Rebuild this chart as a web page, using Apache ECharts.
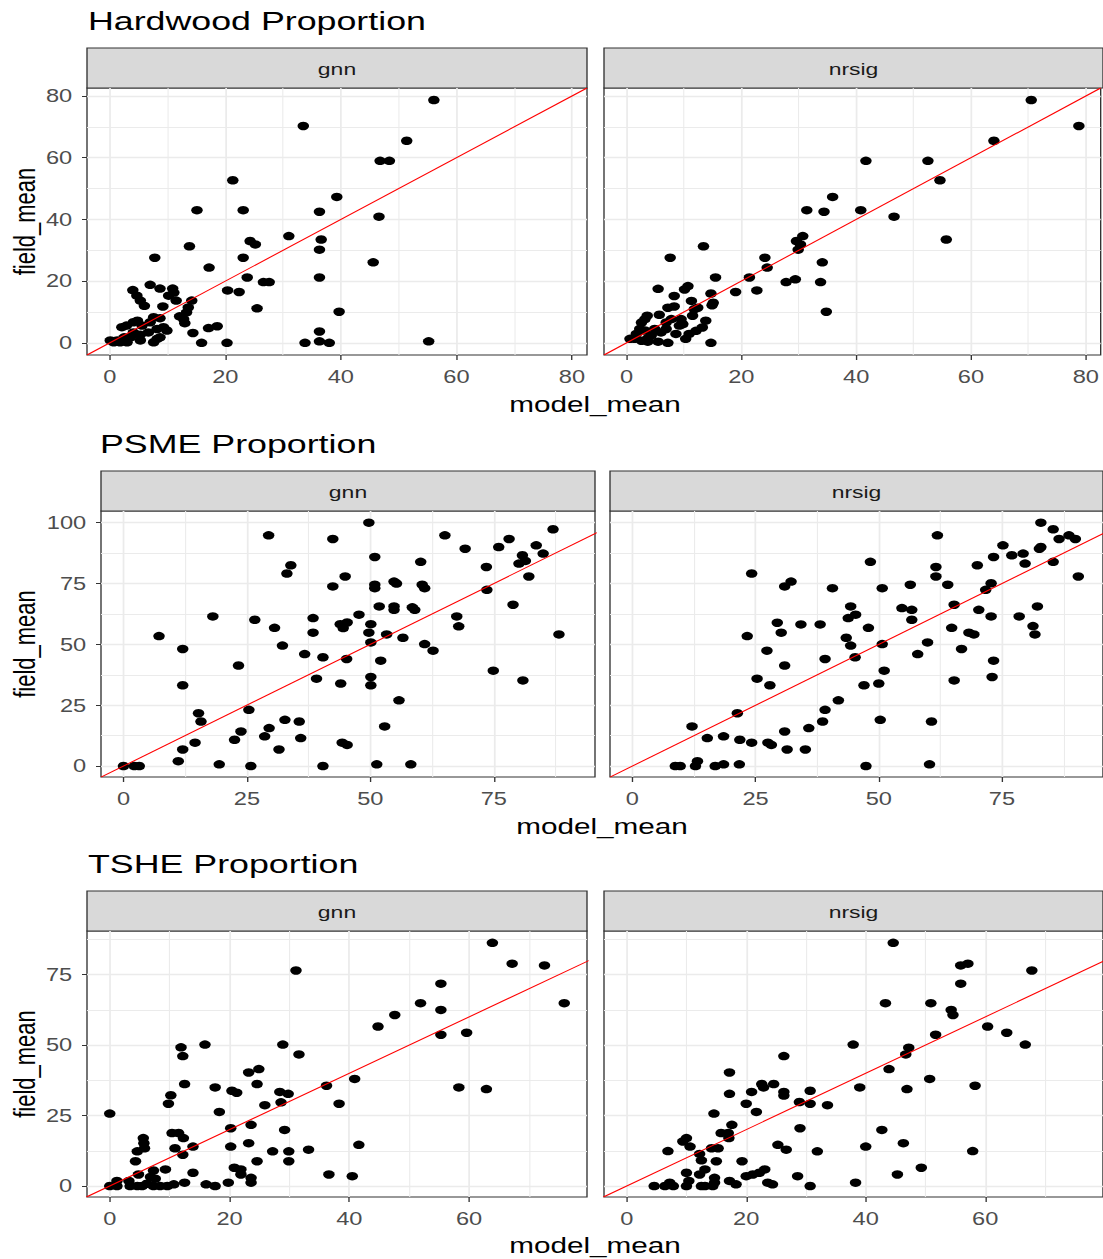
<!DOCTYPE html>
<html>
<head>
<meta charset="utf-8">
<script src="https://cdn.jsdelivr.net/npm/echarts@6/dist/echarts.min.js"></script>
<style>
html, body { margin: 0; padding: 0; background: #fff; overflow: hidden; }
#main { height: 1259px; transform-origin: 0 0; }
</style>
</head>
<body>
<div id="main"></div>
<script>
// 数据 (model_mean, field_mean)
var hardwoodGnn = [[56.1,78.7],[33.5,70.3],[51.4,65.5],[46.8,59.0],[48.4,59.0],[21.3,52.7],[39.3,47.3],[15.1,43.0],[23.1,43.0],[36.3,42.5],[46.6,40.9],[31.0,34.6],[36.6,33.5],[24.3,33.0],[25.2,31.9],[13.8,31.3],[36.3,30.2],[7.8,27.6],[23.1,27.6],[45.6,26.1],[17.2,24.4],[23.8,21.2],[36.3,21.2],[26.6,19.7],[27.6,19.7],[20.4,17.0],[22.4,16.5],[25.5,11.2],[39.7,10.1],[36.3,3.7],[36.3,0.5],[38.0,0],[33.8,0],[55.2,0.5],[20.3,0],[15.9,0],[14.4,3.2],[17.1,4.8],[18.6,5.4],[13.0,6.4],[7.0,18.8],[8.7,17.6],[10.9,17.6],[11.1,16.3],[4.0,17.1],[4.7,15.3],[5.3,13.7],[6.0,12.0],[10.2,15.3],[11.5,13.7],[14.2,13.7],[13.6,11.5],[13.3,9.9],[9.2,11.8],[12.1,8.6],[12.8,7.7],[7.6,8.3],[8.7,8.0],[7.0,6.7],[4.8,7.2],[4.1,6.7],[2.9,5.6],[2.1,5.1],[5.6,5.6],[8.2,4.5],[9.3,5.1],[9.9,4.0],[6.7,3.4],[5.3,2.6],[8.2,1.3],[7.6,0.2],[8.7,1.8],[3.6,1.8],[4.1,3.4],[3.0,0.2],[1.8,0.2],[0.1,0.8],[0.7,0.2],[1.3,0.8],[5.3,0.8],[2.5,1.8]];
var hardwoodNrsig = [[70.5,78.7],[78.8,70.3],[64.0,65.5],[41.7,59.0],[52.5,59.0],[54.6,52.7],[35.9,47.3],[31.4,43.0],[34.4,42.5],[40.8,43.0],[46.6,40.9],[55.7,33.5],[30.7,34.6],[29.6,33.0],[30.3,31.9],[29.9,30.2],[13.4,31.3],[7.6,27.6],[24.1,27.6],[34.1,26.1],[24.5,24.4],[15.5,21.2],[21.4,21.2],[27.8,19.7],[29.4,20.6],[33.8,19.7],[19.0,16.5],[22.7,17.0],[34.8,10.1],[14.7,0],[5.5,17.5],[10.1,17.3],[10.7,18.4],[8.3,15.2],[14.7,16.0],[15.1,13.0],[14.9,12.2],[11.3,13.6],[7.2,11.4],[8.3,11.8],[5.7,9.1],[11.8,10.9],[12.4,11.4],[11.5,8.8],[3.6,8.8],[3.2,7.7],[2.6,6.6],[2.3,4.5],[7.8,7.7],[9.8,6.1],[9.2,5.6],[13.8,7.2],[13.2,5.0],[12.1,3.9],[10.9,2.9],[10.3,1.3],[8.6,2.9],[6.9,4.5],[6.0,3.4],[4.9,4.5],[4.3,2.4],[3.7,1.5],[0.6,1.3],[1.4,1.3],[2.6,0.7],[3.7,0.4],[5.5,0.4],[7.2,0],[1.7,2.9],[3.2,4.0],[6.9,6.6],[9.5,7.7]];
var psmeGnn = [[49.7,100],[29.4,94.8],[42.4,93.3],[65.1,94.8],[87.0,97.3],[78.1,93.3],[69.2,89.3],[76.0,90.0],[83.6,90.7],[85.0,87.3],[80.8,86.6],[81.4,84.3],[80.1,83.2],[73.5,81.8],[82.1,77.9],[50.9,85.9],[60.2,83.9],[33.9,82.5],[33.1,79.1],[44.9,77.9],[42.4,73.8],[50.9,74.5],[50.9,73.1],[54.8,75.8],[55.3,75.0],[60.5,74.5],[61.0,73.1],[73.6,72.4],[51.8,65.6],[54.8,65.6],[54.8,64.2],[58.5,65.2],[59.0,64.2],[78.9,66.3],[18.1,61.5],[26.6,60.1],[38.4,60.8],[47.7,62.2],[43.9,58.3],[45.3,59.0],[44.5,56.7],[50.1,58.3],[67.5,61.5],[67.9,57.4],[30.6,56.8],[38.4,54.8],[49.7,54.8],[53.3,54.1],[56.6,52.7],[7.2,53.4],[88.2,54.1],[50.1,50.8],[32.2,49.5],[61.0,50.1],[62.7,47.4],[12.0,48.1],[36.7,46.0],[40.4,44.7],[45.2,44.0],[52.1,43.3],[23.3,41.3],[74.9,39.2],[39.1,35.9],[44.0,33.9],[50.1,36.6],[50.1,33.2],[12.0,33.2],[80.9,35.2],[55.8,27.0],[25.4,23.1],[15.2,21.7],[15.7,18.3],[32.7,19.0],[35.6,18.3],[52.9,16.3],[29.5,15.6],[28.6,12.2],[23.8,14.2],[22.5,10.8],[35.9,11.5],[14.5,9.6],[12.0,6.8],[31.5,6.8],[44.3,9.6],[45.3,8.7],[11.1,2.0],[19.4,0.7],[25.8,0],[40.4,0],[51.3,0.7],[58.2,0.7],[0,0],[2.2,0],[3.2,0]];
var psmeNrsig = [[82.9,100],[85.4,97.3],[61.9,94.8],[86.6,93.3],[88.6,94.8],[89.9,93.3],[75.2,90.7],[82.9,90.0],[82.6,89.3],[77.0,86.6],[79.3,87.3],[73.3,85.9],[79.7,83.2],[85.4,83.9],[70.0,82.5],[48.3,83.9],[61.6,81.8],[61.6,77.9],[90.5,77.9],[24.2,79.1],[32.2,75.8],[30.9,73.8],[40.6,73.1],[50.7,73.1],[56.4,74.5],[64.0,74.5],[72.8,75.1],[71.7,72.4],[65.3,66.3],[82.2,65.6],[44.3,65.6],[54.7,64.9],[56.7,64.2],[45.3,62.2],[43.8,60.8],[56.7,60.1],[70.3,64.2],[72.8,61.5],[78.5,61.5],[29.4,58.9],[30.2,54.8],[34.2,58.2],[38.1,58.2],[47.9,56.8],[64.8,56.8],[81.3,57.5],[81.7,54.1],[68.3,54.8],[69.3,54.1],[23.3,53.4],[43.4,52.7],[44.3,49.5],[50.7,50.1],[59.9,50.8],[27.3,47.4],[57.9,46.0],[66.8,48.1],[39.1,44.0],[45.2,44.7],[30.9,41.3],[73.3,43.3],[51.1,39.2],[25.3,35.9],[27.9,33.2],[65.3,35.2],[73.0,36.6],[47.0,33.2],[50.0,33.9],[41.8,27.0],[39.1,23.1],[21.3,21.7],[38.6,18.3],[50.3,19.0],[60.7,18.3],[12.1,16.3],[35.8,15.6],[30.9,14.2],[15.2,11.5],[18.5,12.2],[21.8,10.8],[24.2,9.6],[27.5,9.6],[28.2,8.7],[31.4,6.8],[35.1,6.8],[8.7,0],[9.7,0],[12.8,0],[13.2,2.0],[16.8,0],[18.5,0.7],[21.7,0.7],[47.4,0],[60.3,0.7]];
var tsheGnn = [[63.9,86.3],[67.2,78.9],[72.6,78.3],[31.1,76.5],[55.3,71.8],[51.9,64.9],[55.3,62.5],[47.6,60.7],[44.8,56.6],[75.9,64.9],[55.3,53.7],[59.6,54.4],[11.9,49.2],[12.2,46.1],[15.9,50.2],[28.9,50.2],[31.6,46.7],[23.2,40.3],[24.9,41.5],[12.5,36.2],[17.6,35.0],[24.6,36.2],[20.4,33.8],[21.2,33.1],[36.2,35.6],[40.9,38.0],[58.3,35.0],[62.9,34.4],[28.4,33.4],[29.8,32.7],[10.2,32.2],[9.8,29.2],[28.6,29.7],[25.9,28.7],[38.3,29.2],[18.3,26.3],[0,25.7],[20.2,20.5],[23.6,21.7],[29.2,19.9],[10.4,18.8],[11.5,18.8],[12.3,17.0],[5.6,17.0],[5.7,15.2],[13.9,14.0],[10.9,13.4],[5.8,13.4],[4.6,12.3],[12.2,11.1],[20.2,14.0],[23.2,15.2],[41.6,14.6],[27.2,12.3],[29.9,12.3],[33.2,12.9],[4.3,8.8],[24.6,8.8],[29.9,8.8],[20.8,6.5],[21.9,5.9],[21.9,4.1],[13.9,4.7],[9.3,5.9],[7.3,5.5],[4.8,4.1],[6.8,3.2],[23.6,2.9],[23.6,1.2],[36.6,4.1],[40.5,3.5],[19.8,1.2],[12.5,1.2],[16.1,0.6],[17.6,0],[0,0],[1.2,1.8],[1.2,0],[3.2,1.8],[3.4,0],[4.6,0],[5.4,0],[7.3,0],[8.4,0],[9.6,0],[10.7,0.6],[6.2,0.8],[7.6,2.6]];
var tsheNrsig = [[44.6,86.3],[55.9,78.3],[57.1,78.9],[67.8,76.5],[55.9,71.8],[43.3,64.9],[50.9,64.9],[54.3,62.5],[54.6,60.7],[51.7,53.7],[60.4,56.6],[63.6,54.4],[66.7,50.2],[37.9,50.2],[47.2,49.1],[46.7,46.7],[26.3,46.1],[17.2,40.3],[43.9,41.5],[50.7,38.0],[22.6,36.2],[22.9,35.0],[24.6,36.2],[39.0,35.0],[46.9,34.4],[58.3,35.6],[17.2,32.7],[20.9,33.4],[26.3,33.4],[26.3,32.1],[30.7,33.8],[28.9,29.8],[30.7,29.2],[33.6,28.7],[20.0,29.2],[21.7,26.3],[14.6,25.7],[17.6,21.7],[15.8,18.8],[17.0,18.8],[17.1,17.0],[29.0,20.5],[42.7,19.9],[10.0,17.0],[9.4,15.8],[10.6,14.0],[25.3,14.6],[26.7,12.9],[31.9,12.3],[40.0,14.0],[46.3,15.2],[6.9,12.4],[14.2,13.4],[15.3,13.4],[12.2,11.4],[12.5,9.1],[15.0,8.8],[19.3,8.8],[57.9,12.4],[13.1,5.9],[12.2,4.1],[10.0,4.7],[10.4,1.8],[10.0,0],[14.7,2.9],[14.7,1.2],[14.4,0],[17.2,1.8],[18.3,0.6],[20.0,3.5],[21.1,4.1],[22.2,4.7],[23.1,5.9],[23.6,1.2],[24.4,0.6],[28.6,3.5],[30.7,0],[38.3,1.2],[45.3,4.1],[49.3,6.5],[4.6,0],[6.4,0],[7.2,1.2],[7.8,0],[12.5,0],[13.1,0]];

// 刻度
var hardwoodTicks = [0, 20, 40, 60, 80];
var hardwoodMinor = [10, 30, 50, 70];
var psmeXTicks = [0, 25, 50, 75];
var psmeYTicks = [0, 25, 50, 75, 100];
var psmeMinor = [12.5, 37.5, 62.5, 87.5];
var tsheXTicks = [0, 20, 40, 60];
var tsheXMinor = [10, 30, 50, 70];
var tsheYTicks = [0, 25, 50, 75];
var tsheYMinor = [12.5, 37.5, 62.5, 87.5];

;(function() {
  // the reference picture is stretched sideways, so draw narrow and stretch with css
  var S = 1.35;
  function sx(v) { return v / S; }
  var FONT = 'Liberation Sans, Arial, sans-serif';

  var rows = [
    {title: 'Hardwood Proportion', titleLeft: 88, titleY: 21, top: 88, height: 267, nameY: 404,
     xRange: [-3.93, 82.6], yRange: [-3.93, 82.6],
     xTicks: hardwoodTicks, xMinor: hardwoodMinor, yTicks: hardwoodTicks, yMinor: hardwoodMinor,
     panels: [{name: 'gnn', data: hardwoodGnn, left: 87, width: 500}, {name: 'nrsig', data: hardwoodNrsig, left: 604, width: 499}]},
    {title: 'PSME Proportion', titleLeft: 100, titleY: 444, top: 511, height: 266, nameY: 826,
     xRange: [-4.55, 95.5], yRange: [-4.5, 104.8],
     xTicks: psmeXTicks, xMinor: psmeMinor, yTicks: psmeYTicks, yMinor: psmeMinor,
     panels: [{name: 'gnn', data: psmeGnn, left: 101, width: 494}, {name: 'nrsig', data: psmeNrsig, left: 610, width: 493}]},
    {title: 'TSHE Proportion', titleLeft: 88, titleY: 864, top: 931, height: 266, nameY: 1245,
     xRange: [-3.8, 79.7], yRange: [-3.9, 90.5],
     xTicks: tsheXTicks, xMinor: tsheXMinor, yTicks: tsheYTicks, yMinor: tsheYMinor,
     panels: [{name: 'gnn', data: tsheGnn, left: 87, width: 500}, {name: 'nrsig', data: tsheNrsig, left: 604, width: 499}]}
  ];

  var grid = [], xAxis = [], yAxis = [], series = [], graphic = [];

  rows.forEach(function(r) {
    graphic.push({type: 'text', x: sx(r.titleLeft), y: r.titleY,
      style: {text: r.title, fontSize: 26.5, fontFamily: FONT, fill: '#000', align: 'left', verticalAlign: 'middle'}});
    var first = r.panels[0].left, last = r.panels[1].left + r.panels[1].width;
    graphic.push({type: 'text', x: sx((first + last) / 2), y: r.nameY,
      style: {text: 'model_mean', fontSize: 22, fontFamily: FONT, fill: '#000', align: 'center', verticalAlign: 'middle'}});
    graphic.push({type: 'text', x: sx(25), y: r.top + r.height / 2, rotation: Math.PI / 2,
      style: {text: 'field_mean', fontSize: 22, fontFamily: FONT, fill: '#000', align: 'center', verticalAlign: 'middle'}});

    r.panels.forEach(function(p, j) {
      var gi = grid.length;
      grid.push({left: sx(p.left), top: r.top, width: sx(p.width), height: r.height,
        show: true, backgroundColor: '#fff', borderColor: '#333', borderWidth: 1});

      // 分面标签
      graphic.push({type: 'rect', shape: {x: sx(p.left), y: r.top - 40, width: sx(p.width), height: 40},
        style: {fill: '#D9D9D9', stroke: '#333', lineWidth: 1}});
      graphic.push({type: 'text', x: sx(p.left + p.width / 2), y: r.top - 19,
        style: {text: p.name, fontSize: 17, fontFamily: FONT, fill: '#1A1A1A', align: 'center', verticalAlign: 'middle'}});

      xAxis.push({gridIndex: gi, type: 'value', min: r.xRange[0], max: r.xRange[1], position: 'bottom',
        axisLine: {show: false, onZero: false},
        axisTick: {show: true, customValues: r.xTicks, length: 5, lineStyle: {color: '#333'}},
        axisLabel: {customValues: r.xTicks, color: '#4D4D4D', fontSize: 17.5, fontFamily: FONT, margin: 13},
        splitLine: {show: true, lineStyle: {color: '#EBEBEB', width: 1.3}}});
      xAxis.push({gridIndex: gi, type: 'value', min: r.xRange[0], max: r.xRange[1], position: 'top',
        axisLine: {show: false, onZero: false},
        axisTick: {show: false, customValues: r.xMinor},
        axisLabel: {show: false},
        splitLine: {show: true, lineStyle: {color: '#EBEBEB', width: 0.8}}});

      yAxis.push({gridIndex: gi, type: 'value', min: r.yRange[0], max: r.yRange[1], position: 'left',
        axisLine: {show: false, onZero: false},
        axisTick: {show: j === 0, customValues: r.yTicks, length: 3.7, lineStyle: {color: '#333'}},
        axisLabel: {show: j === 0, customValues: r.yTicks, color: '#4D4D4D', fontSize: 17.5, fontFamily: FONT, margin: 11},
        splitLine: {show: true, lineStyle: {color: '#EBEBEB', width: 1.3}}});
      yAxis.push({gridIndex: gi, type: 'value', min: r.yRange[0], max: r.yRange[1], position: 'right',
        axisLine: {show: false, onZero: false},
        axisTick: {show: false, customValues: r.yMinor},
        axisLabel: {show: false},
        splitLine: {show: true, lineStyle: {color: '#EBEBEB', width: 0.8}}});

      series.push({type: 'scatter', xAxisIndex: gi * 2, yAxisIndex: gi * 2, data: p.data,
        symbolSize: 8.5, itemStyle: {color: '#000', opacity: 1}, z: 3, silent: true});
      // y = x
      var lo = Math.min(r.xRange[0], r.yRange[0]), hi = Math.max(r.xRange[1], r.yRange[1]);
      series.push({type: 'line', xAxisIndex: gi * 2, yAxisIndex: gi * 2, data: [[lo, lo], [hi, hi]],
        symbol: 'none', clip: true, lineStyle: {color: '#FF0000', width: 1}, z: 4, silent: true});
    });
  });

  var dom = document.getElementById('main');
  dom.style.width = sx(1103) + 'px';
  dom.style.transform = 'scaleX(' + S + ')';
  var myChart = echarts.init(dom, null, {renderer: 'svg'});
  myChart.setOption({
    animation: false,
    backgroundColor: '#fff',
    grid: grid,
    xAxis: xAxis,
    yAxis: yAxis,
    series: series,
    graphic: {elements: graphic}
  });
})()
</script>
</body>
</html>
